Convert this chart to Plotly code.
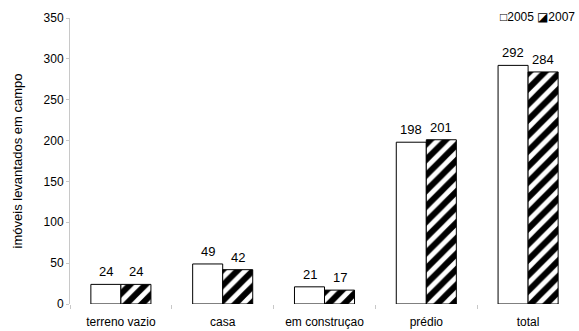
import plotly.graph_objects as go

categories = ["terreno vazio", "casa", "em construçao", "prédio", "total"]
series_names = ["2005", "2007"]
values_2005 = [24, 49, 21, 198, 292]
values_2007 = [24, 42, 17, 201, 284]
y_ticks = [0, 50, 100, 150, 200, 250, 300, 350]
legend_symbols = ["\u25a1", "\u25ea"]

FONT = "Arial"

fig = go.Figure()
fig.add_trace(go.Bar(
    name=series_names[0], x=categories, y=values_2005,
    marker=dict(color="white", line=dict(color="black", width=1)),
))
fig.add_trace(go.Bar(
    name=series_names[1], x=categories, y=values_2007,
    marker=dict(color="white", line=dict(color="black", width=1),
                pattern=dict(shape="/", fgcolor="#000000", bgcolor="white",
                             fgopacity=1, fillmode="overlay",
                             size=11, solidity=0.55)),
))

# value labels above bars
for vals, shift in ((values_2005, -15), (values_2007, 15)):
    for c, v in zip(categories, vals):
        fig.add_annotation(x=c, y=v, text=str(v), showarrow=False,
                           xshift=shift, yshift=3, yanchor="bottom",
                           font=dict(size=13, color="black", family=FONT))

# compact legend line (as in the original: □2005 ◪2007)
legend_text = " ".join(s + n for s, n in zip(legend_symbols, series_names))
fig.add_annotation(xref="paper", yref="paper", x=1, y=1, xanchor="right",
                   yanchor="middle", xshift=-2, yshift=1, showarrow=False,
                   text=legend_text, font=dict(size=12, color="black", family=FONT))

fig.update_layout(
    width=579, height=331,
    margin=dict(l=70, r=0, t=18, b=27),
    paper_bgcolor="white", plot_bgcolor="white",
    barmode="group", bargap=0.41, bargroupgap=0,
    font=dict(family=FONT, size=12, color="black"),
    showlegend=False,
    xaxis=dict(showline=False, ticks="outside", tickson="boundaries",
               ticklen=4, tickcolor="#c8c8c8", showgrid=False,
               ticklabelstandoff=9,
               tickfont=dict(size=12, color="black")),
    yaxis=dict(range=[0, 350], tickvals=y_ticks, showline=True, linecolor="#c8c8c8",
               linewidth=1, ticks="outside", ticklen=3, tickcolor="#c8c8c8",
               showgrid=False, zeroline=False,
               tickfont=dict(size=12, color="black"),
               title=dict(text="imóveis levantados em campo", standoff=18,
                          font=dict(size=13, color="black"))),
)

fig.write_html("out.html")
